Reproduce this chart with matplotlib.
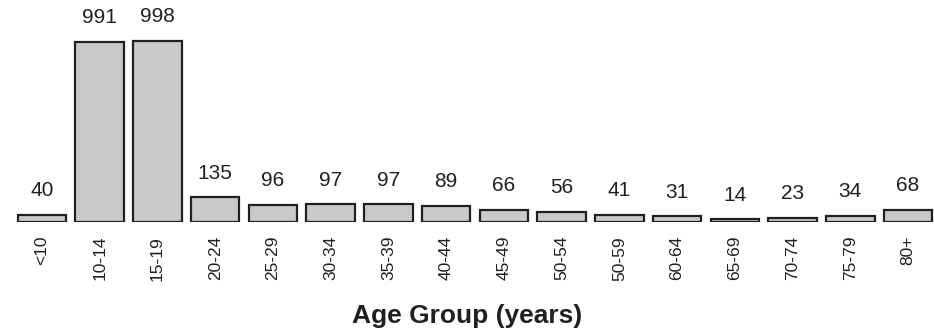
import matplotlib.pyplot as plt

# Cases by age group
age_groups = ["<10", "10-14", "15-19", "20-24", "25-29", "30-34", "35-39",
              "40-44", "45-49", "50-54", "50-59", "60-64", "65-69", "70-74",
              "75-79", "80+"]
counts = [40, 991, 998, 135, 96, 97, 97, 89, 66, 56, 41, 31, 14, 23, 34, 68]

plt.rcParams["font.family"] = ["Liberation Sans", "DejaVu Sans"]
text_color = "#231f20"

fig = plt.figure(figsize=(9.34, 3.32), dpi=100)
ax = fig.add_axes([0, 110 / 332, 1, 222 / 332])

x = range(len(age_groups))
bars = ax.bar(x, counts, width=0.84, color="#c8c9cb",
              edgecolor=text_color, linewidth=1.6)

for bar, val in zip(bars, counts):
    ax.annotate(str(val),
                (bar.get_x() + bar.get_width() / 2, bar.get_height()),
                xytext=(0, 10.5), textcoords="offset points",
                ha="center", va="bottom", fontsize=15, color=text_color)

ax.set_xlim(-0.7275, 15.45)
ax.set_ylim(0, 1222)
ax.set_xticks(list(x))
ax.set_xticklabels(age_groups, rotation=90, fontsize=12.5, color=text_color)
ax.tick_params(axis="x", length=0, pad=10)
ax.set_yticks([])
for s in ax.spines.values():
    s.set_visible(False)
ax.patch.set_visible(False)

fig.text(0.5, 16 / 332, "Age Group (years)", ha="center", va="center",
         fontsize=19, fontweight="bold", color=text_color)

fig.savefig("out.png", dpi=100)
